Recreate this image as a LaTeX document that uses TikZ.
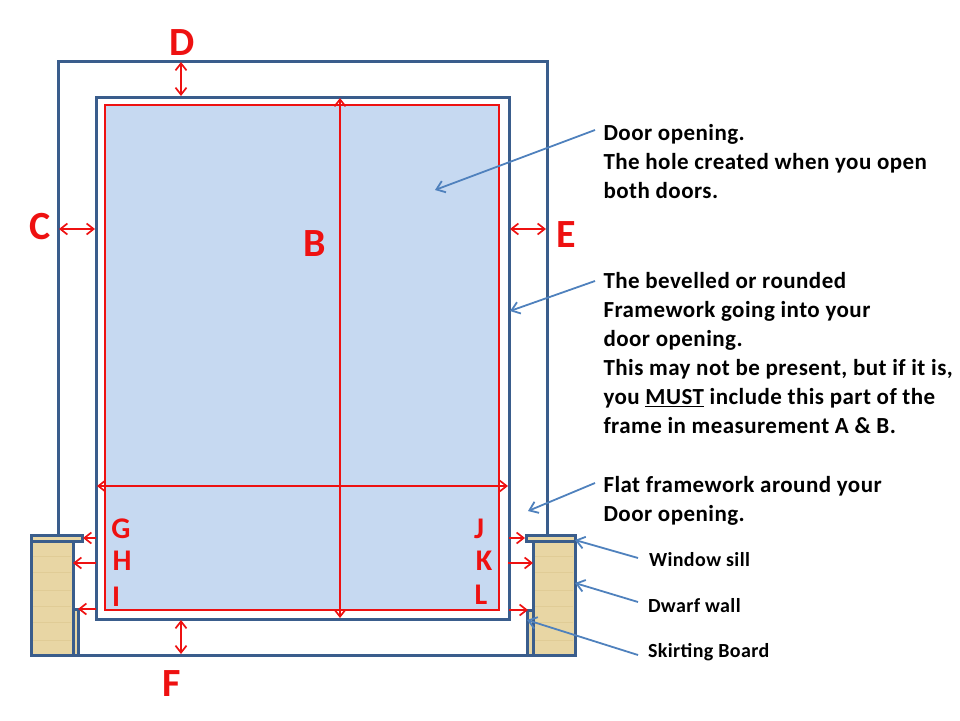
\documentclass[tikz,border=0pt]{standalone}
\usepackage{fontspec}
\setmainfont{Carlito}
\newfontfamily\notefont[LetterSpace=2]{Carlito}
\usetikzlibrary{arrows.meta}
\definecolor{frameblue}{HTML}{3A5D8C}
\definecolor{pointerblue}{HTML}{4F81BD}
\definecolor{opening}{HTML}{C6D9F1}
\definecolor{wood}{HTML}{E8D6A4}
\definecolor{woodline}{HTML}{E0CC96}
\definecolor{redline}{HTML}{EE1111}
\tikzset{
  x=1pt,y=-1pt,
  every node/.style={outer sep=0pt},
  framing/.style={draw=frameblue,line width=3pt,line join=miter},
  woodbox/.style={framing,fill=wood},
  measure/.style={draw=redline,line width=1.7pt,{Straight Barb[length=7pt,width=11pt]}-{Straight Barb[length=7pt,width=11pt]}},
  single/.style={draw=redline,line width=1.7pt,-{Straight Barb[length=7pt,width=11pt]}},
  pointer/.style={draw=pointerblue,line width=1.8pt,-{Straight Barb[length=8pt,width=12pt]}},
  biglabel/.style={text=redline,font=\fontsize{40}{40}\selectfont\bfseries,inner sep=0pt},
  smalllabel/.style={text=redline,font=\fontsize{30}{30}\selectfont\bfseries,inner sep=0pt},
  note/.style={anchor=north west,align=left,inner sep=0pt,font=\notefont\fontsize{23}{29}\selectfont\bfseries},
  tag/.style={anchor=west,inner sep=0pt,font=\notefont\fontsize{20}{22}\selectfont\bfseries},
}
\begin{document}
\begin{tikzpicture}
\useasboundingbox (0,0) rectangle (960,720);
% outer frame
\draw[framing] (58,535) -- (58,61) -- (547,61) -- (547,535);
\draw[framing] (77,655) -- (527,655);
% walls
\node[woodbox,inner sep=0pt,anchor=north west,minimum width=42pt,minimum height=114pt] (wallL) at (31,541) {};
\node[woodbox,inner sep=0pt,anchor=north west,minimum width=42pt,minimum height=114pt] (wallR) at (533,541) {};
\node[woodbox,inner sep=0pt,anchor=north west,minimum width=5pt,minimum height=46pt] (skirtL) at (73,609) {};
\node[woodbox,inner sep=0pt,anchor=north west,minimum width=6pt,minimum height=45pt] (skirtR) at (527,610) {};
\node[woodbox,inner sep=0pt,anchor=north west,minimum width=51pt,minimum height=6pt] (sillL) at (31,535) {};
\node[woodbox,inner sep=0pt,anchor=north west,minimum width=49pt,minimum height=6pt] (sillR) at (526,535) {};
% wood grain
\foreach \y in {556,572,590,606,622,640}{
  \draw[woodline,line width=0.6pt] (33,\y) -- (71,\y);
  \draw[woodline,line width=0.6pt] (535,\y) -- (573,\y);
}
% door opening
\node[framing,fill=white,inner sep=0pt,anchor=north west,minimum width=413pt,minimum height=522pt] (frame) at (96,97) {};
\node[draw=redline,line width=1.7pt,fill=opening,inner sep=0pt,anchor=north west,minimum width=394pt,minimum height=505pt] (door) at (105,105) {};
% anchor points
\coordinate (dT) at (181,62); \coordinate (dB) at (181,96);
\coordinate (fT) at (181,620); \coordinate (fB) at (181,654);
\coordinate (cL) at (59,229); \coordinate (cR) at (95,229);
\coordinate (eL) at (510,229); \coordinate (eR) at (546,229);
\coordinate (bT) at (340,98); \coordinate (bB) at (340,618);
\coordinate (aL) at (97,486); \coordinate (aR) at (508,486);
\coordinate (gS) at (96,538); \coordinate (gE) at (83,538);
\coordinate (hS) at (96,563); \coordinate (hE) at (73,563);
\coordinate (iS) at (96,609); \coordinate (iE) at (78,609);
\coordinate (jS) at (509,538); \coordinate (jE) at (525,538);
\coordinate (kS) at (508,563); \coordinate (kE) at (533,563);
\coordinate (lS) at (509,610); \coordinate (lE) at (528,610);
% red measures
\draw[measure] (dT) -- (dB);
\draw[measure] (fT) -- (fB);
\draw[measure] (cL) -- (cR);
\draw[measure] (eL) -- (eR);
\draw[measure] (bT) -- (bB);
\draw[measure] (aL) -- (aR);
\draw[single] (gS) -- (gE);
\draw[single] (hS) -- (hE);
\draw[single] (iS) -- (iE);
\draw[single] (jS) -- (jE);
\draw[single] (kS) -- (kE);
\draw[single] (lS) -- (lE);
% letters
\node[biglabel] (labD) at (182,43) {D};
\node[biglabel] (labC) at (40,227) {C};
\node[biglabel] (labB) at (315,244) {B};
\node[biglabel] (labE) at (566,235) {E};
\node[biglabel] (labF) at (172,684) {F};
\node[smalllabel] (labG) at (121,529) {G};
\node[smalllabel] (labH) at (122,561) {H};
\node[smalllabel] (labI) at (116,597) {I};
\node[smalllabel] (labJ) at (479,529) {J};
\node[smalllabel] (labK) at (484,561) {K};
\node[smalllabel] (labL) at (481,595) {L};
% notes
\node[note] (n1) at (603.5,124) {Door opening.\\The hole created when you open\\both doors.};
\node[note] (n2) at (603.5,272) {The bevelled or rounded\\Framework going into your\\door opening.\\This may not be present, but if it is,\\you \underline{MUST} include this part of the\\frame in measurement A \& B.};
\node[note] (n3) at (603.5,476.5) {Flat framework around your\\Door opening.};
\node[tag] (t1) at (649,560) {Window sill};
\node[tag] (t2) at (648,606) {Dwarf wall};
\node[tag] (t3) at (648,652) {Skirting Board};
% blue pointers
\coordinate (p1s) at (595,130); \coordinate (p1e) at (435,190);
\coordinate (p2s) at (595,281); \coordinate (p2e) at (510,311);
\coordinate (p3s) at (595,483); \coordinate (p3e) at (528,511);
\coordinate (p4s) at (638,558); \coordinate (p4e) at (575,540);
\coordinate (p5s) at (638,602); \coordinate (p5e) at (575,583);
\coordinate (p6s) at (638,655); \coordinate (p6e) at (527,620);
\draw[pointer] (p1s) -- (p1e);
\draw[pointer] (p2s) -- (p2e);
\draw[pointer] (p3s) -- (p3e);
\draw[pointer] (p4s) -- (p4e);
\draw[pointer] (p5s) -- (p5e);
\draw[pointer] (p6s) -- (p6e);
\end{tikzpicture}
\end{document}
